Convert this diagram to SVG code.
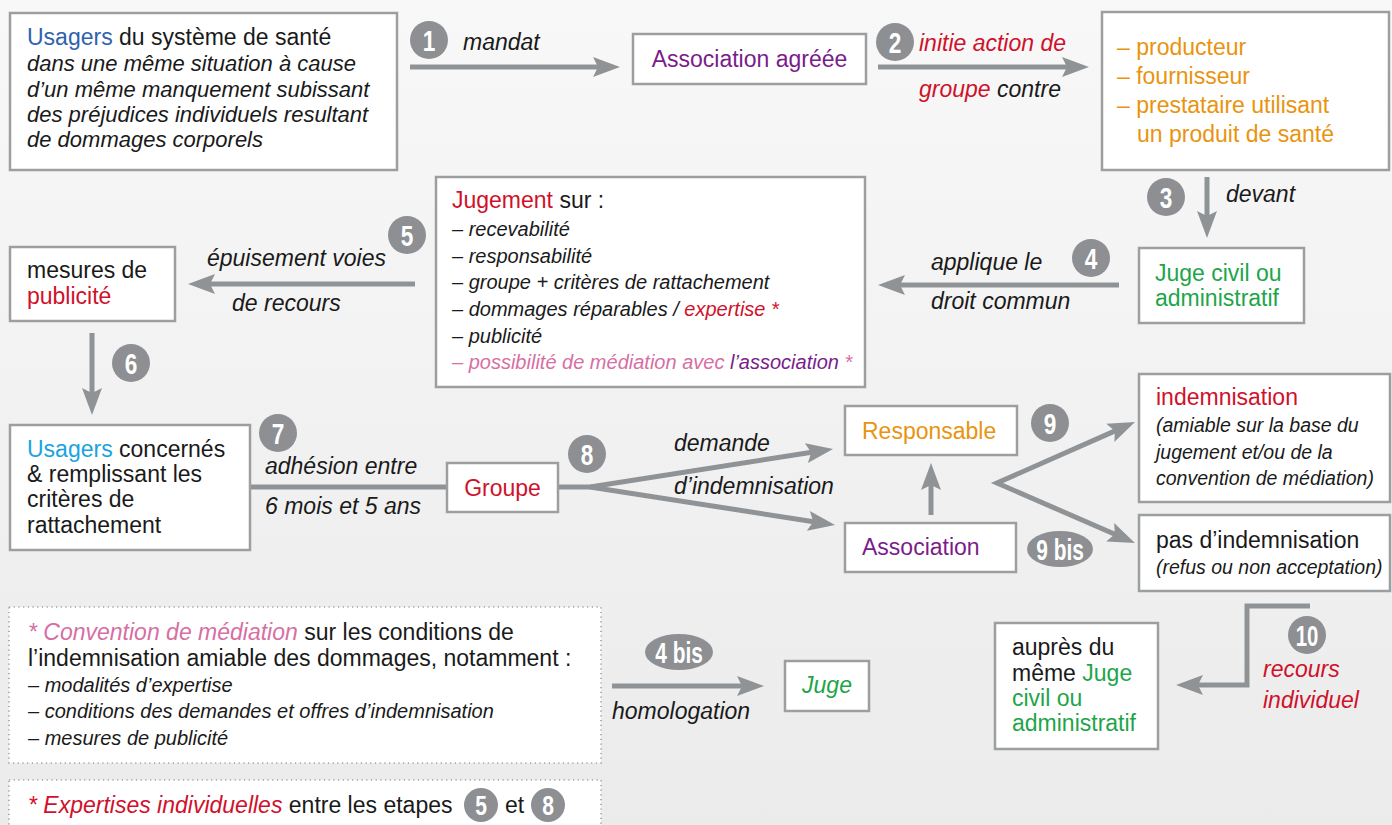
<svg xmlns="http://www.w3.org/2000/svg" width="1392" height="825" viewBox="0 0 1392 825">
<defs>
<linearGradient id="bg" x1="0" y1="0" x2="0" y2="1">
<stop offset="0" stop-color="#f8f8f8"/>
<stop offset="1" stop-color="#ebebeb"/>
</linearGradient>
<marker id="ah" markerUnits="userSpaceOnUse" markerWidth="30" markerHeight="24" viewBox="0 0 30 24" refX="12" refY="12" orient="auto-start-reverse">
<path d="M0,2 L27,12 L0,22 L5,12 Z" fill="#909396"/>
</marker>
<style>
.box{fill:#fff;stroke:#9d9ea0;stroke-width:2.5}
.dot{fill:#fff;stroke:#a0a0a0;stroke-width:1.6;stroke-dasharray:1.2 3.5}
.t{font-family:"Liberation Sans",Arial,sans-serif;font-size:23px;fill:#1a1a1a}
.s{font-size:20px}
.s19{font-size:19.5px}
.i{font-style:italic}
.arr{stroke:#909396;stroke-width:5;fill:none}
.bd{fill:#8d8f92}
.bt{font-family:"Liberation Sans",Arial,sans-serif;font-weight:bold;font-size:29px;fill:#fff;text-anchor:middle}
.blue{fill:#2f62ad}
.lblue{fill:#1aa3e0}
.pur{fill:#7a1d8a}
.red{fill:#d0112b}
.org{fill:#e8940f}
.grn{fill:#1ea54a}
.pink{fill:#d66fa4}
</style>
</defs>
<rect x="0" y="0" width="1392" height="825" fill="url(#bg)"/>

<g id="connectors">
<line class="arr" x1="410" y1="67" x2="605" y2="67" marker-end="url(#ah)"/>
<line class="arr" x1="878" y1="67" x2="1074" y2="67" marker-end="url(#ah)"/>
<line class="arr" x1="1207" y1="177" x2="1207" y2="223" marker-end="url(#ah)"/>
<line class="arr" x1="1119" y1="285" x2="893" y2="285" marker-end="url(#ah)"/>
<line class="arr" x1="415" y1="284" x2="203" y2="284" marker-end="url(#ah)"/>
<line class="arr" x1="92" y1="333" x2="92" y2="400" marker-end="url(#ah)"/>
<line class="arr" x1="250" y1="487" x2="447" y2="487"/>
<path class="arr" d="M558,487 L590,487 L818.2,451.3" marker-end="url(#ah)"/>
<path class="arr" d="M590,487 L820.2,522.7" marker-end="url(#ah)"/>
<line class="arr" x1="931" y1="515" x2="931" y2="478" marker-end="url(#ah)"/>
<path class="arr" d="M1121.3,428.1 L997,483 L1121.2,537" marker-start="url(#ah)" marker-end="url(#ah)"/>
<path class="arr" d="M1310,606 L1247,606 L1247,685 L1191,685" marker-end="url(#ah)"/>
<line class="arr" x1="612" y1="686" x2="749" y2="686" marker-end="url(#ah)"/>
</g>

<g id="badges">
<circle class="bd" cx="429" cy="40" r="19"/><text class="bt" transform="translate(429,50.5) scale(0.78,1)">1</text>
<circle class="bd" cx="895" cy="42" r="19"/><text class="bt" transform="translate(895,52.5) scale(0.78,1)">2</text>
<circle class="bd" cx="1166" cy="197" r="19"/><text class="bt" transform="translate(1166,207.5) scale(0.78,1)">3</text>
<circle class="bd" cx="1091" cy="258" r="19"/><text class="bt" transform="translate(1091,268.5) scale(0.78,1)">4</text>
<circle class="bd" cx="407" cy="235" r="19"/><text class="bt" transform="translate(407,245.5) scale(0.78,1)">5</text>
<circle class="bd" cx="131" cy="363" r="19"/><text class="bt" transform="translate(131,373.5) scale(0.78,1)">6</text>
<circle class="bd" cx="278" cy="433" r="19"/><text class="bt" transform="translate(278,443.5) scale(0.78,1)">7</text>
<circle class="bd" cx="587" cy="454" r="19"/><text class="bt" transform="translate(587,464.5) scale(0.78,1)">8</text>
<circle class="bd" cx="1050" cy="423" r="19"/><text class="bt" transform="translate(1050,433.5) scale(0.78,1)">9</text>
<ellipse class="bd" cx="1060" cy="549" rx="33" ry="18"/><text class="bt" transform="translate(1060,559.5) scale(0.72,1)">9 bis</text>
<circle class="bd" cx="1307" cy="635" r="19"/><text class="bt" transform="translate(1307,645.5) scale(0.7,1)">10</text>
<ellipse class="bd" cx="679" cy="652" rx="34" ry="18"/><text class="bt" transform="translate(679,662.5) scale(0.72,1)">4 bis</text>
</g>

<g id="labels">
<text class="t i" x="463" y="50">mandat</text>
<text class="t i red" x="919" y="51">initie action de</text>
<text class="t i" x="919" y="97"><tspan class="red">groupe</tspan> contre</text>
<text class="t i" x="1226" y="202">devant</text>
<text class="t i" x="931" y="270">applique le</text>
<text class="t i" x="931" y="309">droit commun</text>
<text class="t i" x="207" y="266">épuisement voies</text>
<text class="t i" x="232" y="311">de recours</text>
<text class="t i" x="265" y="474">adhésion entre</text>
<text class="t i" x="265" y="514">6 mois et 5 ans</text>
<text class="t i" x="674" y="451">demande</text>
<text class="t i" x="674" y="494">d’indemnisation</text>
<text class="t i red" x="1263" y="677">recours</text>
<text class="t i red" x="1263" y="708">individuel</text>
<text class="t i" x="612" y="719">homologation</text>
</g>

<g id="n-usagers">
<rect class="box" x="10" y="13" width="387" height="157"/>
<text class="t" x="27" y="45"><tspan class="blue">Usagers</tspan> du système de santé</text>
<text class="t i" style="font-size:22px" x="27" y="71">dans une même situation à cause</text>
<text class="t i" style="font-size:22px" x="27" y="97">d’un même manquement subissant</text>
<text class="t i" style="font-size:22px" x="27" y="122">des préjudices individuels resultant</text>
<text class="t i" style="font-size:22px" x="27" y="147">de dommages corporels</text>
</g>

<g id="n-association-agreee">
<rect class="box" x="633" y="34" width="233" height="50"/>
<text class="t pur" x="749.5" y="67" text-anchor="middle">Association agréée</text>
</g>

<g id="n-producteurs">
<rect class="box" x="1102" y="12" width="287" height="158"/>
<text class="t org" x="1117" y="55">– producteur</text>
<text class="t org" x="1117" y="84">– fournisseur</text>
<text class="t org" x="1117" y="113">– prestataire utilisant</text>
<text class="t org" x="1137" y="142">un produit de santé</text>
</g>

<g id="n-juge-civil">
<rect class="box" x="1139" y="248" width="165" height="75"/>
<text class="t grn" x="1155" y="281">Juge civil ou</text>
<text class="t grn" x="1155" y="306">administratif</text>
</g>

<g id="n-jugement">
<rect class="box" x="436" y="177" width="429" height="210"/>
<text class="t" x="452" y="208"><tspan class="red">Jugement</tspan> sur :</text>
<text class="t i s" x="452" y="236">– recevabilité</text>
<text class="t i s" x="452" y="263">– responsabilité</text>
<text class="t i s" x="452" y="289">– groupe + critères de rattachement</text>
<text class="t i s" x="452" y="316">– dommages réparables / <tspan class="red">expertise *</tspan></text>
<text class="t i s" x="452" y="343">– publicité</text>
<text class="t i s pink" x="452" y="369">– possibilité de médiation avec <tspan class="pur">l’association</tspan> *</text>
</g>

<g id="n-mesures">
<rect class="box" x="10" y="247" width="165" height="74"/>
<text class="t" x="27" y="278">mesures de</text>
<text class="t red" x="27" y="304">publicité</text>
</g>

<g id="n-usagers-concernes">
<rect class="box" x="10" y="425" width="240" height="125"/>
<text class="t" x="27" y="457"><tspan class="lblue">Usagers</tspan> concernés</text>
<text class="t" x="27" y="482">&amp; remplissant les</text>
<text class="t" x="27" y="507">critères de</text>
<text class="t" x="27" y="533">rattachement</text>
</g>

<g id="n-groupe">
<rect class="box" x="447" y="463" width="111" height="49"/>
<text class="t red" x="502.5" y="496" text-anchor="middle">Groupe</text>
</g>

<g id="n-responsable">
<rect class="box" x="845" y="406" width="172" height="49"/>
<text class="t org" x="862" y="439">Responsable</text>
</g>

<g id="n-association">
<rect class="box" x="845" y="523" width="171" height="49"/>
<text class="t pur" x="862" y="555">Association</text>
</g>

<g id="n-indemnisation">
<rect class="box" x="1139" y="374" width="251" height="128"/>
<text class="t red" x="1156" y="405">indemnisation</text>
<text class="t i s19" x="1156" y="432">(amiable sur la base du</text>
<text class="t i s19" x="1156" y="459">jugement et/ou de la</text>
<text class="t i s19" x="1156" y="485">convention de médiation)</text>
</g>

<g id="n-pas-indemnisation">
<rect class="box" x="1139" y="515" width="251" height="76"/>
<text class="t" x="1156" y="548">pas d’indemnisation</text>
<text class="t i s19" x="1156" y="574">(refus ou non acceptation)</text>
</g>

<g id="n-aupres">
<rect class="box" x="995" y="623" width="163" height="126"/>
<text class="t" x="1012" y="655">auprès du</text>
<text class="t" x="1012" y="681">même <tspan class="grn">Juge</tspan></text>
<text class="t grn" x="1012" y="706">civil ou</text>
<text class="t grn" x="1012" y="731">administratif</text>
</g>

<g id="n-juge">
<rect class="box" x="785" y="661" width="84" height="50"/>
<text class="t i grn" x="827" y="693" text-anchor="middle">Juge</text>
</g>

<g id="n-convention">
<rect class="dot" x="9" y="607" width="592" height="156"/>
<text class="t" x="28" y="640"><tspan class="pink i">* Convention de médiation</tspan> sur les conditions de</text>
<text class="t" x="28" y="666">l’indemnisation amiable des dommages, notamment :</text>
<text class="t i s" x="28" y="692">– modalités d’expertise</text>
<text class="t i s" x="28" y="718">– conditions des demandes et offres d’indemnisation</text>
<text class="t i s" x="28" y="745">– mesures de publicité</text>
</g>

<g id="n-expertises">
<rect class="dot" x="9" y="780" width="592" height="60"/>
<text class="t" x="28" y="813"><tspan class="red i">* Expertises individuelles</tspan> entre les etapes</text>
<circle class="bd" cx="481" cy="805" r="17"/><text class="bt" transform="translate(481,815) scale(0.78,1)" style="font-size:27px">5</text>
<text class="t" x="505" y="813">et</text>
<circle class="bd" cx="548" cy="805" r="17"/><text class="bt" transform="translate(548,815) scale(0.78,1)" style="font-size:27px">8</text>
</g>
</svg>
